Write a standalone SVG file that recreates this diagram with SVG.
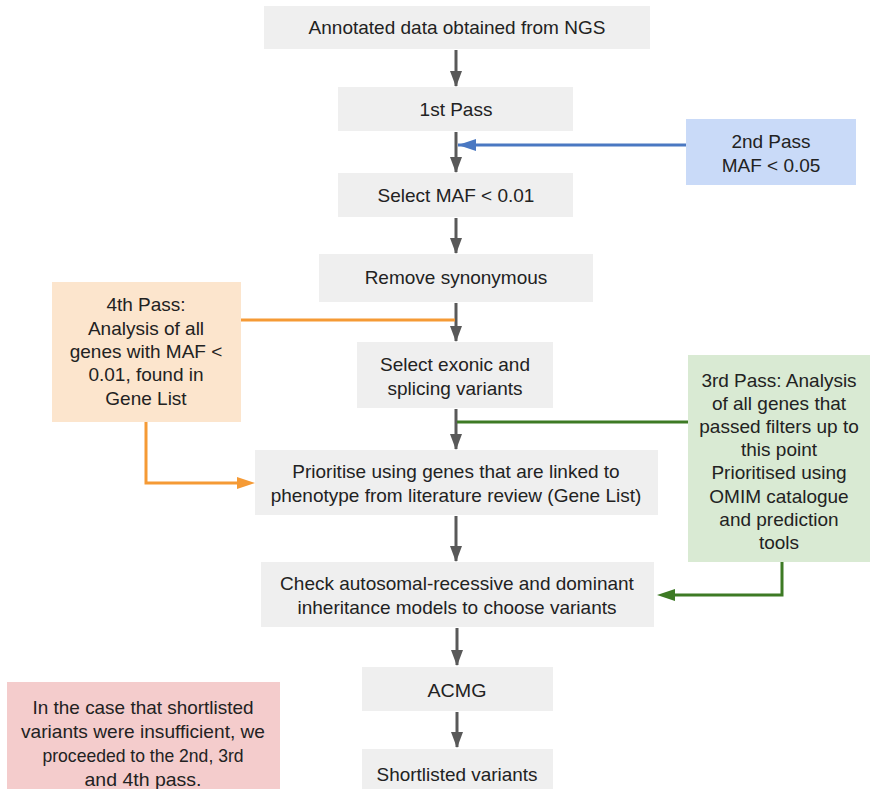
<svg xmlns="http://www.w3.org/2000/svg" width="870" height="789" viewBox="0 0 870 789">
<style>
.box{fill:#efefef}
.t{font-family:"Liberation Sans",Arial,sans-serif;font-size:19px;fill:#222;text-anchor:middle}
.ga{stroke:#595959;stroke-width:3;fill:none}
</style>
<defs>
<marker id="ag" markerWidth="16" markerHeight="12" refX="15" refY="6" orient="auto" markerUnits="userSpaceOnUse"><path d="M0,0 L16,6 L0,12 z" fill="#595959"/></marker>
</defs>
<rect width="870" height="789" fill="#fff"/>
<g id="n1"><rect class="box" x="264" y="6" width="386" height="43"/><text class="t" x="457" y="34">Annotated data obtained from NGS</text></g>
<g id="n2"><rect class="box" x="338" y="87" width="235" height="44"/><text class="t" x="456" y="116">1st Pass</text></g>
<g id="n3"><rect class="box" x="338" y="173" width="235" height="44"/><text class="t" x="456" y="202">Select MAF &lt; 0.01</text></g>
<g id="n4"><rect class="box" x="319" y="254" width="274" height="48"/><text class="t" x="456" y="284">Remove synonymous</text></g>
<g id="n5"><rect class="box" x="357" y="342" width="196" height="66"/><text class="t" x="455" y="371">Select exonic and</text><text class="t" x="455" y="395">splicing variants</text></g>
<g id="n6"><rect class="box" x="255" y="450" width="403" height="65"/><text class="t" x="456" y="478">Prioritise using genes that are linked to</text><text class="t" x="456" y="502">phenotype from literature review (Gene List)</text></g>
<g id="n7"><rect class="box" x="261" y="562" width="393" height="65"/><text class="t" x="457" y="590">Check autosomal-recessive and dominant</text><text class="t" x="457" y="614">inheritance models to choose variants</text></g>
<g id="n8"><rect class="box" x="362" y="667" width="191" height="44"/><text class="t" x="457" y="697" textLength="59" lengthAdjust="spacingAndGlyphs">ACMG</text></g>
<g id="n9"><rect class="box" x="362" y="749" width="191" height="40"/><text class="t" x="457" y="781" textLength="161" lengthAdjust="spacingAndGlyphs">Shortlisted variants</text></g>
<g id="p2"><rect x="686" y="119" width="170" height="66" fill="#c9daf8"/><text class="t" x="771" y="148">2nd Pass</text><text class="t" x="771" y="172">MAF &lt; 0.05</text></g>
<g id="p4"><rect x="52" y="282" width="189" height="140" fill="#fce5cd"/><text class="t" x="146" y="311">4th Pass:</text><text class="t" x="146" y="335">Analysis of all</text><text class="t" x="146" y="358">genes with MAF &lt;</text><text class="t" x="146" y="381">0.01, found in</text><text class="t" x="146" y="405">Gene List</text></g>
<g id="p3"><rect x="688" y="355" width="182" height="207" fill="#d9ead3"/><text class="t" x="779" y="387">3rd Pass: Analysis</text><text class="t" x="779" y="410">of all genes that</text><text class="t" x="779" y="433">passed filters up to</text><text class="t" x="779" y="456">this point</text><text class="t" x="779" y="479">Prioritised using</text><text class="t" x="779" y="503">OMIM catalogue</text><text class="t" x="779" y="526">and prediction</text><text class="t" x="779" y="549">tools</text></g>
<g id="note"><rect x="7" y="682" width="273" height="107" fill="#f4cccc"/><text class="t" x="143" y="714" textLength="221" lengthAdjust="spacingAndGlyphs">In the case that shortlisted</text><text class="t" x="143" y="738" textLength="244" lengthAdjust="spacingAndGlyphs">variants were insufficient, we</text><text class="t" x="143" y="762" textLength="201" lengthAdjust="spacingAndGlyphs">proceeded to the 2nd, 3rd</text><text class="t" x="143" y="786" textLength="117" lengthAdjust="spacingAndGlyphs">and 4th pass.</text></g>
<g id="connectors">
<line class="ga" x1="456" y1="50" x2="456" y2="86" marker-end="url(#ag)"/>
<line class="ga" x1="456" y1="132" x2="456" y2="172" marker-end="url(#ag)"/>
<line class="ga" x1="456" y1="218" x2="456" y2="253" marker-end="url(#ag)"/>
<line class="ga" x1="456" y1="303" x2="456" y2="341" marker-end="url(#ag)"/>
<line class="ga" x1="456" y1="409" x2="456" y2="449" marker-end="url(#ag)"/>
<line class="ga" x1="456" y1="516" x2="456" y2="561" marker-end="url(#ag)"/>
<line class="ga" x1="457" y1="628" x2="457" y2="665" marker-end="url(#ag)"/>
<line class="ga" x1="457" y1="712" x2="457" y2="747" marker-end="url(#ag)"/>
<path d="M686,145 H458" stroke="#4a78c2" stroke-width="3" fill="none"/>
<path d="M458,145 L476,139 L476,151 z" fill="#4a78c2"/>
<path d="M241,320 H455" stroke="#f59a35" stroke-width="3" fill="none"/>
<path d="M146,422 V483 H240" stroke="#f59a35" stroke-width="3" fill="none"/>
<path d="M255,483 L237,477 L237,489 z" fill="#f59a35"/>
<path d="M688,422 H457" stroke="#3d7a24" stroke-width="3" fill="none"/>
<path d="M782,562 V595 H672" stroke="#3d7a24" stroke-width="3" fill="none"/>
<path d="M657,595 L675,589 L675,601 z" fill="#3d7a24"/>
</g>
</svg>
